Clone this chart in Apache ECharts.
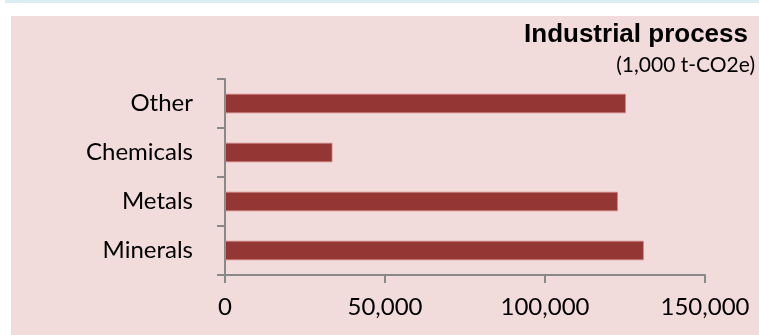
<!DOCTYPE html>
<html>
<head>
<meta charset="utf-8">
<script src="https://cdn.jsdelivr.net/npm/echarts@6/dist/echarts.min.js"></script>
<style>
  html, body { margin: 0; padding: 0; background: #ffffff; }
  #chart { width: 759px; height: 335px; }
</style>
</head>
<body>
<div id="chart"></div>
<script>
// Emissions from industrial processes by source (1,000 t-CO2e)
const categories = ['Minerals', 'Metals', 'Chemicals', 'Other'];
const emissions = [130900, 122800, 33600, 125300];
const axisTicks = { min: 0, max: 150000, interval: 50000 };
const titleText = 'Industrial process';
const unitText = '(1,000 t-CO2e)';

const chart = echarts.init(document.getElementById('chart'), null, { renderer: 'canvas' });

const labelFont = 'Lato, "Open Sans", sans-serif';

chart.setOption({
  backgroundColor: '#ffffff',
  animation: false,
  graphic: [
    { type: 'rect', z: -10, shape: { x: 5, y: 0, width: 754, height: 3 }, style: { fill: '#dbeef4' } },
    { type: 'rect', z: -10, shape: { x: 11, y: 16, width: 748, height: 319 }, style: { fill: '#f2dcdb' } },
    {
      type: 'text', right: 11, top: 22,
      style: { text: titleText, font: 'bold 26px "Liberation Sans", Arial, sans-serif', fill: '#000000' }
    },
    {
      type: 'text', right: 4, top: 55,
      style: { text: unitText, font: '21px ' + labelFont, fill: '#000000' }
    }
  ],
  grid: { left: 225, right: 54, top: 79, bottom: 60, containLabel: false },
  xAxis: {
    type: 'value',
    min: axisTicks.min,
    max: axisTicks.max,
    interval: axisTicks.interval,
    axisLine: { show: true, lineStyle: { color: '#898989', width: 2 } },
    axisTick: { show: true, length: 8, lineStyle: { color: '#898989', width: 2 } },
    splitLine: { show: false },
    axisLabel: {
      color: '#000000', fontSize: 24, fontFamily: labelFont, margin: 20,
      formatter: v => v.toLocaleString('en-US')
    }
  },
  yAxis: {
    type: 'category',
    data: categories,
    axisLine: { show: true, lineStyle: { color: '#898989', width: 2 } },
    axisTick: { show: true, length: 8, lineStyle: { color: '#898989', width: 2 } },
    axisLabel: { color: '#000000', fontSize: 24, fontFamily: labelFont, margin: 32 }
  },
  series: [{
    type: 'bar',
    data: emissions,
    barCategoryGap: '60%',
    itemStyle: { color: '#943634', borderColor: 'rgba(205,130,128,0.8)', borderWidth: 1 }
  }]
});
</script>
</body>
</html>
